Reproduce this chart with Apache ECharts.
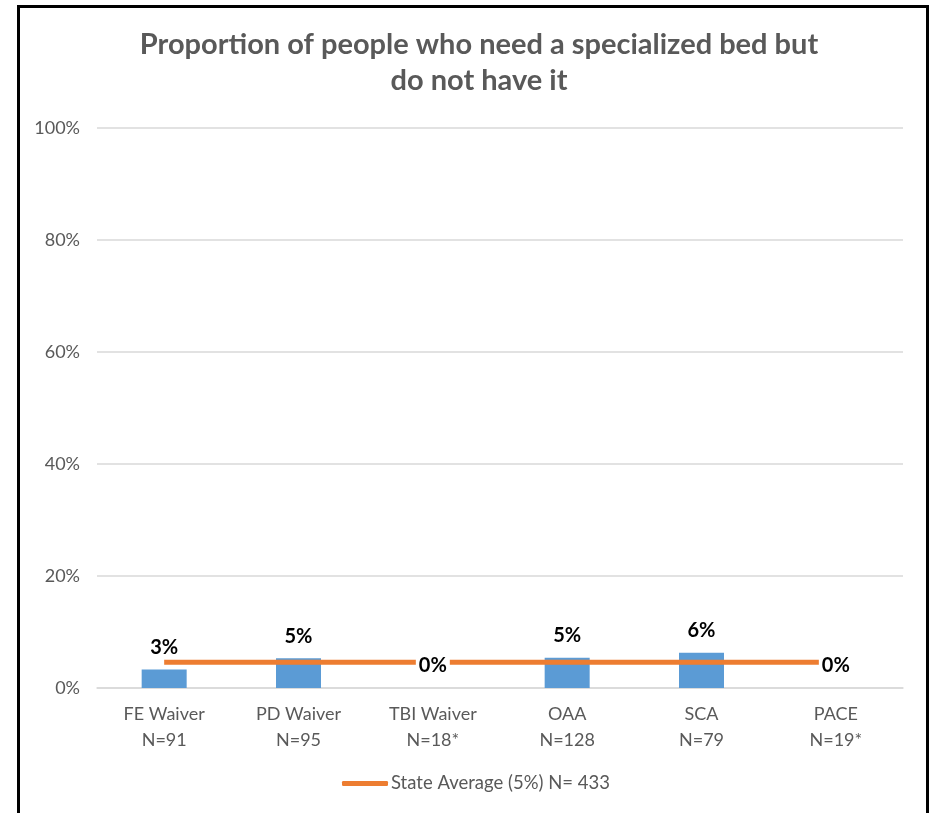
<!DOCTYPE html>
<html>
<head>
<meta charset="utf-8">
<script src="https://cdn.jsdelivr.net/npm/echarts@6/dist/echarts.min.js"></script>
<style>
  html, body { margin: 0; padding: 0; background: #fff; }
  #chart { width: 934px; height: 813px; position: relative; }
  #frame {
    position: absolute; left: 17px; top: 5px; width: 906px; height: 830px;
    border: 3px solid #000; box-sizing: content-box; pointer-events: none;
  }
</style>
</head>
<body>
<div id="chart"></div>
<div id="frame"></div>
<script>
// Programs and sample sizes
const programs = ['FE Waiver', 'PD Waiver', 'TBI Waiver', 'OAA', 'SCA', 'PACE'];
const sampleSizes = ['N=91', 'N=95', 'N=18*', 'N=128', 'N=79', 'N=19*'];
// Share of people needing a specialized bed who do not have one (%)
const needNotHave = [3.3, 5.3, 0, 5.4, 6.3, 0];
// Statewide average (%), drawn across every program
const stateAverage = [4.6, 4.6, 4.6, 4.6, 4.6, 4.6];
const stateLabel = 'State Average (5%) N= 433';
const yTicks = [0, 20, 40, 60, 80, 100];

const FONT = 'Lato, "Open Sans", sans-serif';
const GRAY = '#595959';

const chart = echarts.init(document.getElementById('chart'), null, { renderer: 'canvas' });

chart.setOption({
  animation: false,
  backgroundColor: '#fff',
  title: {
    text: 'Proportion of people who need a specialized bed but\ndo not have it',
    left: 474,
    textAlign: 'center',
    top: 22,
    textStyle: {
      fontFamily: FONT, fontWeight: 'bold', fontSize: 29, color: GRAY, lineHeight: 36
    }
  },
  grid: { left: 97, right: 31, top: 128, bottom: 125, containLabel: false },
  legend: {
    data: [{ name: stateLabel, icon: 'roundRect' }],
    bottom: 15,
    left: 337,
    itemWidth: 46,
    itemHeight: 5,
    itemGap: 4,
    textStyle: { fontFamily: FONT, fontSize: 18.5, color: GRAY, padding: [0, 0, 0, -2] }
  },
  xAxis: {
    type: 'category',
    data: programs.map((p, i) => p + '\n' + sampleSizes[i]),
    axisLine: { lineStyle: { color: '#D9D9D9', width: 1.5 } },
    axisTick: { show: false },
    axisLabel: {
      fontFamily: FONT, fontSize: 18, color: GRAY, lineHeight: 26, margin: 13
    }
  },
  yAxis: {
    type: 'value',
    min: yTicks[0],
    max: yTicks[yTicks.length - 1],
    interval: 20,
    axisLine: { show: false },
    axisTick: { show: false },
    splitLine: { lineStyle: { color: '#D9D9D9', width: 1.5 } },
    axisLabel: {
      fontFamily: FONT, fontSize: 18, color: GRAY, margin: 17,
      formatter: v => v + '%'
    }
  },
  series: [
    {
      name: 'Bars',
      type: 'bar',
      data: needNotHave,
      barWidth: 45,
      itemStyle: { color: '#5B9BD5' },
      z: 2
    },
    {
      name: stateLabel,
      type: 'line',
      data: stateAverage,
      showSymbol: false,
      symbol: 'none',
      lineStyle: { color: '#ED7D31', width: 5 },
      itemStyle: { color: '#ED7D31' },
      z: 3
    },
    {
      // value labels, kept above the average line
      name: 'Labels',
      type: 'bar',
      data: needNotHave,
      barWidth: 45,
      barGap: '-100%',
      itemStyle: { color: 'rgba(0,0,0,0)' },
      label: {
        show: true,
        position: 'top',
        distance: 11,
        fontFamily: FONT,
        fontWeight: 'bold',
        fontSize: 20,
        color: '#000',
        backgroundColor: '#fff',
        padding: [2, 3, 1, 3],
        formatter: p => Math.round(p.value) + '%'
      },
      z: 4
    }
  ]
});
</script>
</body>
</html>
